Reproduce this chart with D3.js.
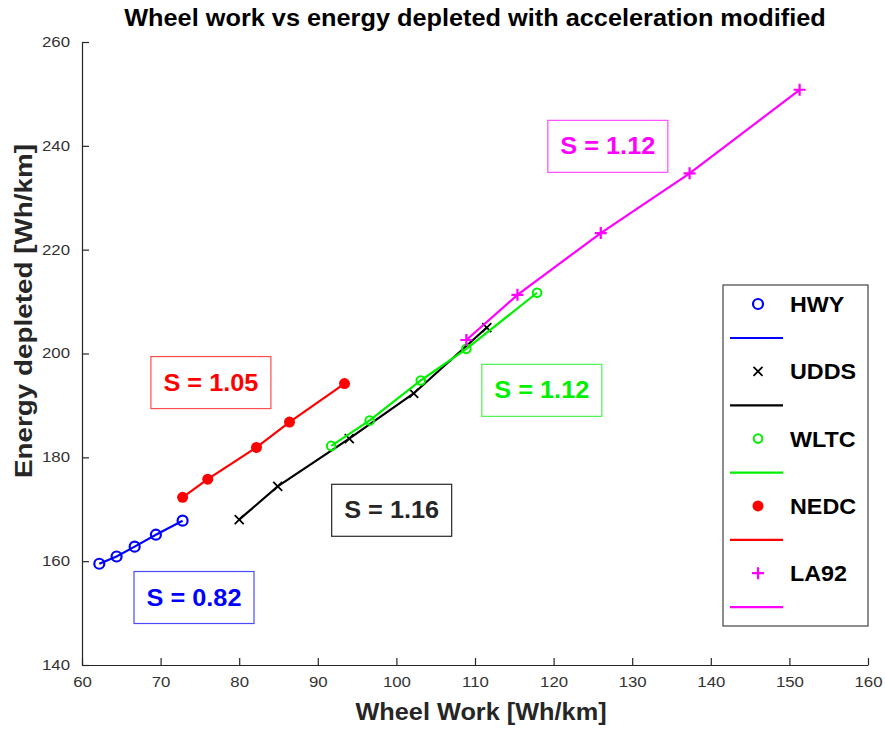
<!DOCTYPE html>
<html>
<head>
<meta charset="utf-8">
<script src="https://cdn.jsdelivr.net/npm/d3@7"></script>
<style>
  body { margin: 0; background: #fff; }
  svg { display: block; }
  text { font-family: "Liberation Sans", Arial, Helvetica, sans-serif; }
</style>
</head>
<body>
<svg id="chart" width="885" height="729"></svg>
<script>
// Drive-cycle measurements: wheel work (x) vs energy depleted (y), Wh/km
const hwyX  = [62.2, 64.4, 66.7, 69.4, 72.8];
const hwyY  = [159.5, 160.9, 162.8, 165.1, 167.8];
const uddsX = [80.0, 84.9, 94.0, 102.2, 111.5];
const uddsY = [168.0, 174.4, 183.6, 192.3, 205.0];
const wltcX = [91.7, 96.6, 103.1, 108.9, 117.9];
const wltcY = [182.2, 187.1, 194.8, 200.9, 211.7];
const nedcX = [72.8, 76.0, 82.2, 86.4, 93.4];
const nedcY = [172.3, 175.8, 181.9, 186.8, 194.2];
const la92X = [108.9, 115.4, 126.0, 137.3, 151.3];
const la92Y = [202.6, 211.3, 223.2, 234.7, 250.8];

const seriesNames  = ["HWY", "UDDS", "WLTC", "NEDC", "LA92"];
const seriesColors = ["#0000ff", "#000000", "#00f000", "#ff0000", "#ff00ff"];
const seriesMarkers = ["circle", "x", "ring", "dot", "plus"];
const slopeLabels  = ["S = 0.82", "S = 1.16", "S = 1.12", "S = 1.05", "S = 1.12"];
// annotation box centres, in data coordinates
const slopeAtX = [74.25, 99.4, 118.5, 76.4, 126.9];
const slopeAtY = [153.0, 169.8, 192.9, 194.4, 239.9];

const xTicks = [60, 70, 80, 90, 100, 110, 120, 130, 140, 150, 160];
const yTicks = [140, 160, 180, 200, 220, 240, 260];

const xs = [hwyX, uddsX, wltcX, nedcX, la92X];
const ys = [hwyY, uddsY, wltcY, nedcY, la92Y];

const svg = d3.select("#chart");
const plotLeft = 82, plotRight = 868, plotTop = 42, plotBottom = 665;
const WIDEN = 1.1; // horizontal widening applied to text

function widen(sel, k) {
  sel.each(function () {
    const w = this.getComputedTextLength();
    d3.select(this).attr("textLength", w * k).attr("lengthAdjust", "spacingAndGlyphs");
  });
  return sel;
}

const x = d3.scaleLinear().domain([60, 160]).range([plotLeft, plotRight]);
const y = d3.scaleLinear().domain([140, 260]).range([plotBottom, plotTop]);

// Axes (ticks point inwards, no box)
const xAxis = svg.append("g").attr("transform", `translate(0,${plotBottom})`)
  .call(d3.axisBottom(x).tickValues(xTicks).tickSizeInner(-7).tickSizeOuter(0).tickPadding(12));
const yAxis = svg.append("g").attr("transform", `translate(${plotLeft},0)`)
  .call(d3.axisLeft(y).tickValues(yTicks).tickSizeInner(-7).tickSizeOuter(0).tickPadding(12));
[xAxis, yAxis].forEach(g => {
  g.select(".domain").attr("stroke", "#262626").attr("stroke-width", 1.2);
  g.selectAll(".tick line").attr("stroke", "#262626").attr("stroke-width", 1.2);
  const t = g.selectAll(".tick text").attr("fill", "#333").style("font-size", "14px")
    .style("font-family", "'Liberation Sans', Arial, sans-serif");
  widen(t, 1.2);
});

// Title and axis labels
widen(svg.append("text").attr("x", 475).attr("y", 26).attr("text-anchor", "middle")
  .style("font-size", "23px").style("font-weight", "bold").attr("fill", "#000")
  .text("Wheel work vs energy depleted with acceleration modified"), WIDEN);
widen(svg.append("text").attr("x", 481).attr("y", 720).attr("text-anchor", "middle")
  .style("font-size", "23px").style("font-weight", "bold").attr("fill", "#262626")
  .text("Wheel Work [Wh/km]"), WIDEN);
svg.append("text").attr("transform", `translate(32,311) rotate(-90)`)
  .attr("text-anchor", "middle")
  .attr("textLength", 334).attr("lengthAdjust", "spacingAndGlyphs")
  .style("font-size", "24px").style("font-weight", "bold").attr("fill", "#262626")
  .text("Energy depleted [Wh/km]");

function drawMarker(g, kind, color, cx, cy) {
  if (kind === "circle") {
    g.append("circle").attr("cx", cx).attr("cy", cy).attr("r", 5)
      .attr("fill", "none").attr("stroke", color).attr("stroke-width", 2.2);
  } else if (kind === "ring") {
    g.append("circle").attr("cx", cx).attr("cy", cy).attr("r", 4.3)
      .attr("fill", "none").attr("stroke", color).attr("stroke-width", 2);
  } else if (kind === "dot") {
    g.append("circle").attr("cx", cx).attr("cy", cy).attr("r", 5.5).attr("fill", color);
  } else if (kind === "x") {
    const s = 4.5;
    g.append("path").attr("d", `M${cx - s},${cy - s}L${cx + s},${cy + s}M${cx - s},${cy + s}L${cx + s},${cy - s}`)
      .attr("stroke", color).attr("stroke-width", 1.8);
  } else if (kind === "plus") {
    const s = 6;
    g.append("path").attr("d", `M${cx - s},${cy}L${cx + s},${cy}M${cx},${cy - s}L${cx},${cy + s}`)
      .attr("stroke", color).attr("stroke-width", 2.2);
  }
}

const line = d3.line().x(d => x(d[0])).y(d => y(d[1]));
const plot = svg.append("g");
seriesNames.forEach((name, i) => {
  const pts = xs[i].map((v, k) => [v, ys[i][k]]);
  const g = plot.append("g");
  g.append("path").datum(pts).attr("d", line).attr("fill", "none")
    .attr("stroke", seriesColors[i]).attr("stroke-width", 2.2);
  pts.forEach(p => drawMarker(g, seriesMarkers[i], seriesColors[i], x(p[0]), y(p[1])));
});

// Slope annotations
seriesNames.forEach((name, i) => {
  const cx = x(slopeAtX[i]), cy = y(slopeAtY[i]);
  const g = svg.append("g");
  g.append("rect").attr("x", cx - 60).attr("y", cy - 26).attr("width", 120).attr("height", 52)
    .attr("fill", "#fff").attr("stroke", seriesColors[i]).attr("stroke-width", 1.2)
    .attr("stroke-opacity", i === 1 ? 0.85 : 0.7);
  widen(g.append("text").attr("x", cx).attr("y", cy + 8).attr("text-anchor", "middle")
    .style("font-size", "23px").style("font-weight", "bold")
    .attr("fill", i === 1 ? "#262626" : seriesColors[i]).text(slopeLabels[i]), WIDEN);
});

// Legend: marker entries and line entries listed separately
const lg = svg.append("g");
lg.append("rect").attr("x", 723).attr("y", 285).attr("width", 145).attr("height", 341)
  .attr("fill", "#fff").attr("stroke", "#444").attr("stroke-width", 1.2);
seriesNames.forEach((name, i) => {
  const ry = 304 + i * 67.3;
  drawMarker(lg, seriesMarkers[i], seriesColors[i], 758, ry);
  widen(lg.append("text").attr("x", 790).attr("y", ry + 8).style("font-size", "22px")
    .style("font-weight", "bold").attr("fill", "#000").text(name), 1.06);
  lg.append("line").attr("x1", 730).attr("x2", 783).attr("y1", ry + 34).attr("y2", ry + 34)
    .attr("stroke", seriesColors[i]).attr("stroke-width", 2.2);
});
</script>
</body>
</html>
